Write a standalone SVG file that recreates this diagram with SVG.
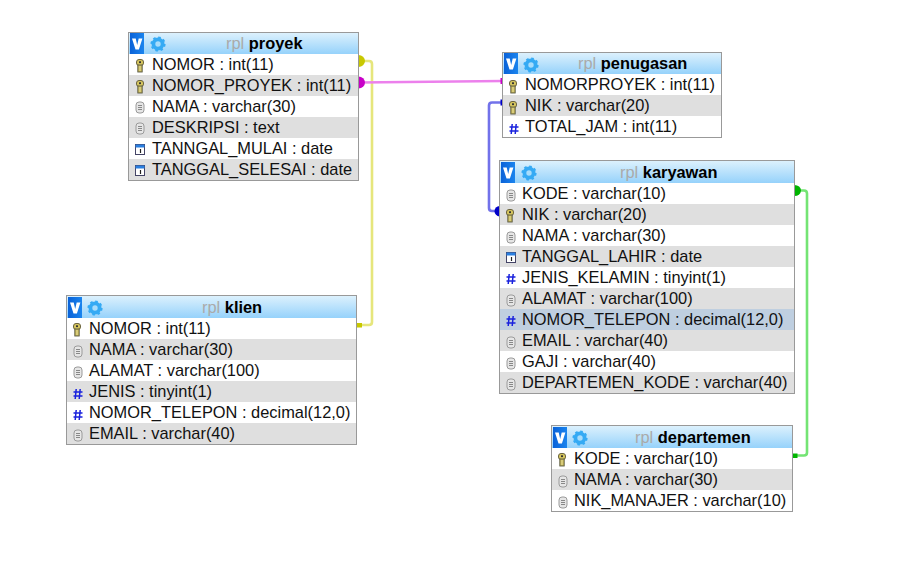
<svg xmlns="http://www.w3.org/2000/svg" width="905" height="561" viewBox="0 0 905 561">
<style>
text{font-family:"Liberation Sans",Arial,sans-serif;font-size:16.4px;fill:#111}
.t{fill:#fff;stroke:#999;stroke-width:1}
.g{fill:#dfdfdf}
.hd{fill:url(#hdr)}
.rpl{fill:#aaa}
.nm{font-weight:bold;fill:#000}
.c{fill:none;stroke-width:2.600}
</style>
<defs>
<linearGradient id="hdr" x1="0" y1="0" x2="0" y2="1"><stop offset="0" stop-color="#dcf1fd"/><stop offset="1" stop-color="#96d2fb"/></linearGradient>
<linearGradient id="vb" x1="0" y1="0" x2="1" y2="0"><stop offset="0" stop-color="#0a62d8"/><stop offset="1" stop-color="#1a84ee"/></linearGradient>
<g id="hi"><rect width="14" height="21" fill="url(#vb)"/><path d="M2 5.500h3.700l1.500 6.500 1.500-6.500h3.700l-3.500 11h-3.400z" fill="#fff"/></g>
<g id="gear"><circle cx="8" cy="8" r="4.600" fill="#a8dcfb" stroke="#35aaf4" stroke-width="3.800"/><circle cx="8" cy="8" r="6.700" fill="none" stroke="#35aaf4" stroke-width="1.800" stroke-dasharray="2.600 2.660"/></g>
<g id="key"><rect x="1.500" y=".5" width="7" height="6" rx="2.500" fill="#d6c65e" stroke="#6b6440"/><rect x="2.800" y="6" width="4.400" height="7" fill="#c2b254" stroke="#5a5a44" stroke-width=".9"/><rect x="4" y="2.300" width="2" height="1.800" fill="#333"/><path d="M5 7v5" stroke="#eee6a0" stroke-width="1"/></g>
<g id="txt"><rect x="1" y="1" width="8" height="11" rx="3" fill="#e6e6e6" stroke="#9a9a9a"/><path d="M3 4.500h4M3 6.500h4M3 8.500h4" stroke="#888" stroke-width="1"/></g>
<g id="dat"><rect x=".5" y=".5" width="9" height="10" fill="#fff" stroke="#446"/><rect x=".5" y=".5" width="9" height="3" fill="#2a7fe0"/><path d="M5.500 5v4" stroke="#222" stroke-width="1.200"/></g>
<g id="num"><path d="M3.200 1l-1 10M7.200 1l-1 10M.5 4h9M.5 8h9" stroke="#1a22dd" stroke-width="1.500" fill="none"/></g>
</defs>
<rect width="905" height="561" fill="#fff"/>
<g id="connectors">
<path class="c" stroke="#e6e67c" d="M359 61H369Q372 61 372 64V322Q372 325 369 325H357"/>
<path class="c" stroke="#ec80ec" d="M359 82.500L503 81"/>
<path class="c" stroke="#7272ea" d="M503 102.500H492Q489 102.500 489 105.500V208Q489 211 492 211H499"/>
<path class="c" stroke="#74e474" d="M795 190.500H804Q807 190.500 807 193.500V452.500Q807 455.500 804 455.500H793"/>
<path d="M358.500 55a6.500 6 0 0 1 0 12z" fill="#c8c800"/>
<path d="M358.500 76.500a6.500 6 0 0 1 0 12z" fill="#c800c8"/>
<path d="M499.500 206a5 5.200 0 0 0 0 10.400z" fill="#0000c8"/>
<path d="M794.500 185a6.500 5.500 0 0 1 0 11z" fill="#00b400"/>
<rect x="357" y="323" width="5" height="4.500" fill="#c8c800"/>
<rect x="500.500" y="78" width="2.500" height="6" fill="#c800c8"/>
<rect x="500.500" y="99.500" width="2.500" height="6" fill="#0000c8"/>
<rect x="793" y="453.500" width="4.500" height="4.500" fill="#00b400"/>
</g>
<g id="proyek">
<rect class="t" x="128.500" y="32.500" width="230" height="148"/>
<rect class="hd" x="129" y="33" width="229" height="21"/><use href="#hi" x="130" y="33"/><use href="#gear" x="150" y="36"/>
<text x="226" y="49"><tspan class="rpl">rpl</tspan> <tspan class="nm">proyek</tspan></text>
<rect class="g" x="129" y="75" width="229" height="21"/><rect class="g" x="129" y="117" width="229" height="21"/><rect class="g" x="129" y="159" width="229" height="21"/>
<use href="#key" x="135" y="59"/><use href="#key" x="135" y="80"/><use href="#txt" x="135" y="101"/><use href="#txt" x="135" y="122"/><use href="#dat" x="135" y="144"/><use href="#dat" x="135" y="165"/>
<text x="152" y="70">NOMOR : int(11)</text><text x="152" y="91">NOMOR_PROYEK : int(11)</text><text x="152" y="112">NAMA : varchar(30)</text><text x="152" y="133">DESKRIPSI : text</text><text x="152" y="154">TANNGAL_MULAI : date</text><text x="152" y="175">TANGGAL_SELESAI : date</text>
</g>
<g id="penugasan">
<rect class="t" x="502.500" y="52.500" width="219" height="85"/>
<rect class="hd" x="503" y="53" width="218" height="21"/><use href="#hi" x="504" y="53"/><use href="#gear" x="523" y="57"/>
<text x="578" y="69"><tspan class="rpl">rpl</tspan> <tspan class="nm">penugasan</tspan></text>
<rect class="g" x="503" y="95" width="218" height="21"/>
<use href="#key" x="508" y="80"/><use href="#key" x="508" y="101"/><use href="#num" x="509" y="123"/>
<text x="525" y="90">NOMORPROYEK : int(11)</text><text x="525" y="111">NIK : varchar(20)</text><text x="525" y="132">TOTAL_JAM : int(11)</text>
</g>
<g id="karyawan">
<rect class="t" x="499.500" y="160.500" width="295" height="233"/>
<rect class="hd" x="500" y="161" width="294" height="22"/><use href="#hi" x="501" y="162"/><use href="#gear" x="521" y="165"/>
<text x="620" y="178"><tspan class="rpl">rpl</tspan> <tspan class="nm">karyawan</tspan></text>
<rect class="g" x="500" y="204" width="294" height="21"/><rect class="g" x="500" y="246" width="294" height="21"/><rect class="g" x="500" y="288" width="294" height="21"/><rect x="500" y="309" width="294" height="21" fill="#bfcfe0"/><rect class="g" x="500" y="330" width="294" height="21"/><rect class="g" x="500" y="372" width="294" height="21"/>
<use href="#txt" x="506" y="189"/><use href="#key" x="505" y="209"/><use href="#txt" x="506" y="231"/><use href="#dat" x="506" y="252"/><use href="#num" x="506" y="273"/><use href="#txt" x="506" y="294"/><use href="#num" x="506" y="315"/><use href="#txt" x="506" y="336"/><use href="#txt" x="506" y="357"/><use href="#txt" x="506" y="378"/>
<text x="522" y="199">KODE : varchar(10)</text><text x="522" y="220">NIK : varchar(20)</text><text x="522" y="241">NAMA : varchar(30)</text><text x="522" y="262">TANGGAL_LAHIR : date</text><text x="522" y="283">JENIS_KELAMIN : tinyint(1)</text><text x="522" y="304">ALAMAT : varchar(100)</text><text x="522" y="325">NOMOR_TELEPON : decimal(12,0)</text><text x="522" y="346">EMAIL : varchar(40)</text><text x="522" y="367">GAJI : varchar(40)</text><text x="522" y="388">DEPARTEMEN_KODE : varchar(40)</text>
</g>
<g id="klien">
<rect class="t" x="66.500" y="295.500" width="290" height="149"/>
<rect class="hd" x="67" y="296" width="289" height="22"/><use href="#hi" x="68" y="297"/><use href="#gear" x="87" y="300"/>
<text x="202" y="313"><tspan class="rpl">rpl</tspan> <tspan class="nm">klien</tspan></text>
<rect class="g" x="67" y="339" width="289" height="21"/><rect class="g" x="67" y="381" width="289" height="21"/><rect class="g" x="67" y="423" width="289" height="21"/>
<use href="#key" x="72" y="323"/><use href="#txt" x="73" y="345"/><use href="#txt" x="73" y="366"/><use href="#num" x="73" y="388"/><use href="#num" x="73" y="409"/><use href="#txt" x="73" y="429"/>
<text x="89" y="334">NOMOR : int(11)</text><text x="89" y="355">NAMA : varchar(30)</text><text x="89" y="376">ALAMAT : varchar(100)</text><text x="89" y="397">JENIS : tinyint(1)</text><text x="89" y="418">NOMOR_TELEPON : decimal(12,0)</text><text x="89" y="439">EMAIL : varchar(40)</text>
</g>
<g id="departemen">
<rect class="t" x="551.500" y="425.500" width="241" height="86"/>
<rect class="hd" x="552" y="426" width="240" height="22"/><use href="#hi" x="553" y="427"/><use href="#gear" x="572" y="430"/>
<text x="635" y="443"><tspan class="rpl">rpl</tspan> <tspan class="nm">departemen</tspan></text>
<rect class="g" x="552" y="469" width="240" height="21"/>
<use href="#key" x="557" y="453"/><use href="#txt" x="558" y="475"/><use href="#txt" x="558" y="496"/>
<text x="574" y="464">KODE : varchar(10)</text><text x="574" y="485">NAMA : varchar(30)</text><text x="574" y="506">NIK_MANAJER : varchar(10)</text>
</g>
</svg>
